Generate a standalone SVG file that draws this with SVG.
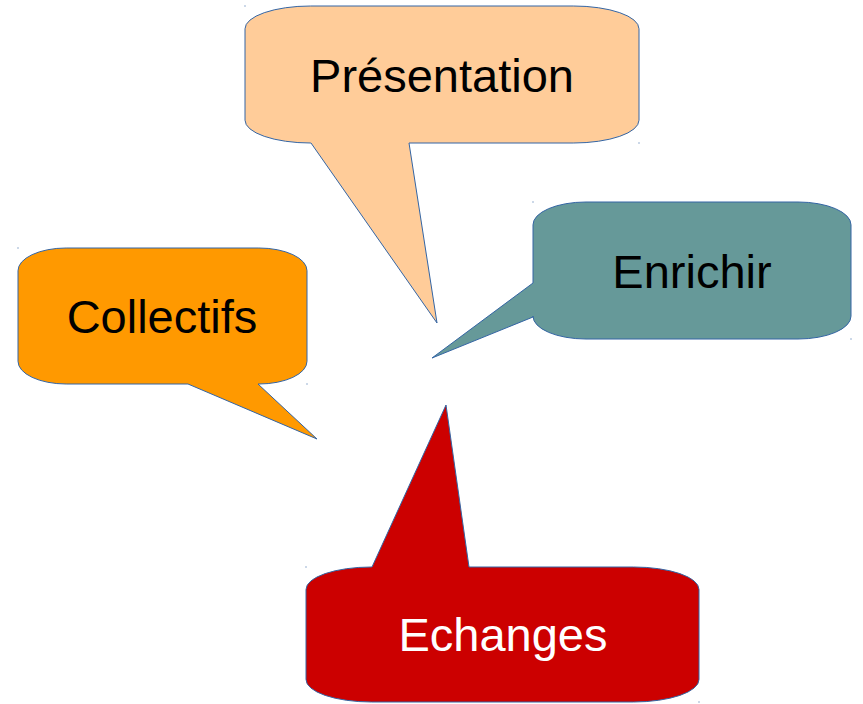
<svg xmlns="http://www.w3.org/2000/svg" width="863" height="704" viewBox="0 0 863 704">
  <style>
    .bubble { stroke: #3465a4; stroke-width: 1; stroke-linejoin: round; }
    .label { font-family: "Liberation Sans", Arial, sans-serif; font-size: 47px; text-anchor: middle; }
    .mark { fill: #3465a4; }
  </style>
  <rect width="863" height="704" fill="#ffffff"/>
  <g id="presentation">
    <path class="bubble" fill="#ffcc99" d="M 310.7,6 H 573.3 A 65.7 22.8 0 0 1 639,28.8 V 120.2 A 65.7 22.8 0 0 1 573.3,143 H 409 L 437,323 L 311,143 H 310.7 A 65.7 22.8 0 0 1 245,120.2 V 28.8 A 65.7 22.8 0 0 1 310.7,6 Z"/>
    <text class="label" x="442" y="92" fill="#000000">Présentation</text>
    <rect class="mark" x="244.5" y="5.5" width="1" height="1"/>
    <rect class="mark" x="638.5" y="142.5" width="1" height="1"/>
  </g>
  <g id="collectifs">
    <path class="bubble" fill="#ff9900" d="M 66.2,248 H 258.8 A 48.2 22.7 0 0 1 307,270.7 V 361.3 A 48.2 22.7 0 0 1 258.8,384 H 258 L 317,439 L 188,384 H 66.2 A 48.2 22.7 0 0 1 18,361.3 V 270.7 A 48.2 22.7 0 0 1 66.2,248 Z"/>
    <text class="label" x="162" y="333" fill="#000000">Collectifs</text>
    <rect class="mark" x="17.5" y="247.5" width="1" height="1"/>
    <rect class="mark" x="306.5" y="383.5" width="1" height="1"/>
  </g>
  <g id="enrichir">
    <path class="bubble" fill="#669999" d="M 586,202 H 798 A 53 22.8 0 0 1 851,224.8 V 316.2 A 53 22.8 0 0 1 798,339 H 586 A 53 22.8 0 0 1 533,316.2 V 317 L 432,358 L 533,283 V 224.8 A 53 22.8 0 0 1 586,202 Z"/>
    <text class="label" x="692" y="288" fill="#000000">Enrichir</text>
    <rect class="mark" x="532.5" y="201.5" width="1" height="1"/>
    <rect class="mark" x="850.5" y="338.5" width="1" height="1"/>
  </g>
  <g id="echanges">
    <path class="bubble" fill="#cc0000" d="M 371.5,567 H 372 L 446,405 L 469,567 H 633.5 A 65.5 22.5 0 0 1 699,589.5 V 679.5 A 65.5 22.5 0 0 1 633.5,702 H 371.5 A 65.5 22.5 0 0 1 306,679.5 V 589.5 A 65.5 22.5 0 0 1 371.5,567 Z"/>
    <text class="label" x="503" y="651" fill="#ffffff">Echanges</text>
    <rect class="mark" x="305.5" y="566.5" width="1" height="1"/>
    <rect class="mark" x="698.5" y="701.5" width="1" height="1"/>
  </g>
  <g id="connectors"/>
</svg>
